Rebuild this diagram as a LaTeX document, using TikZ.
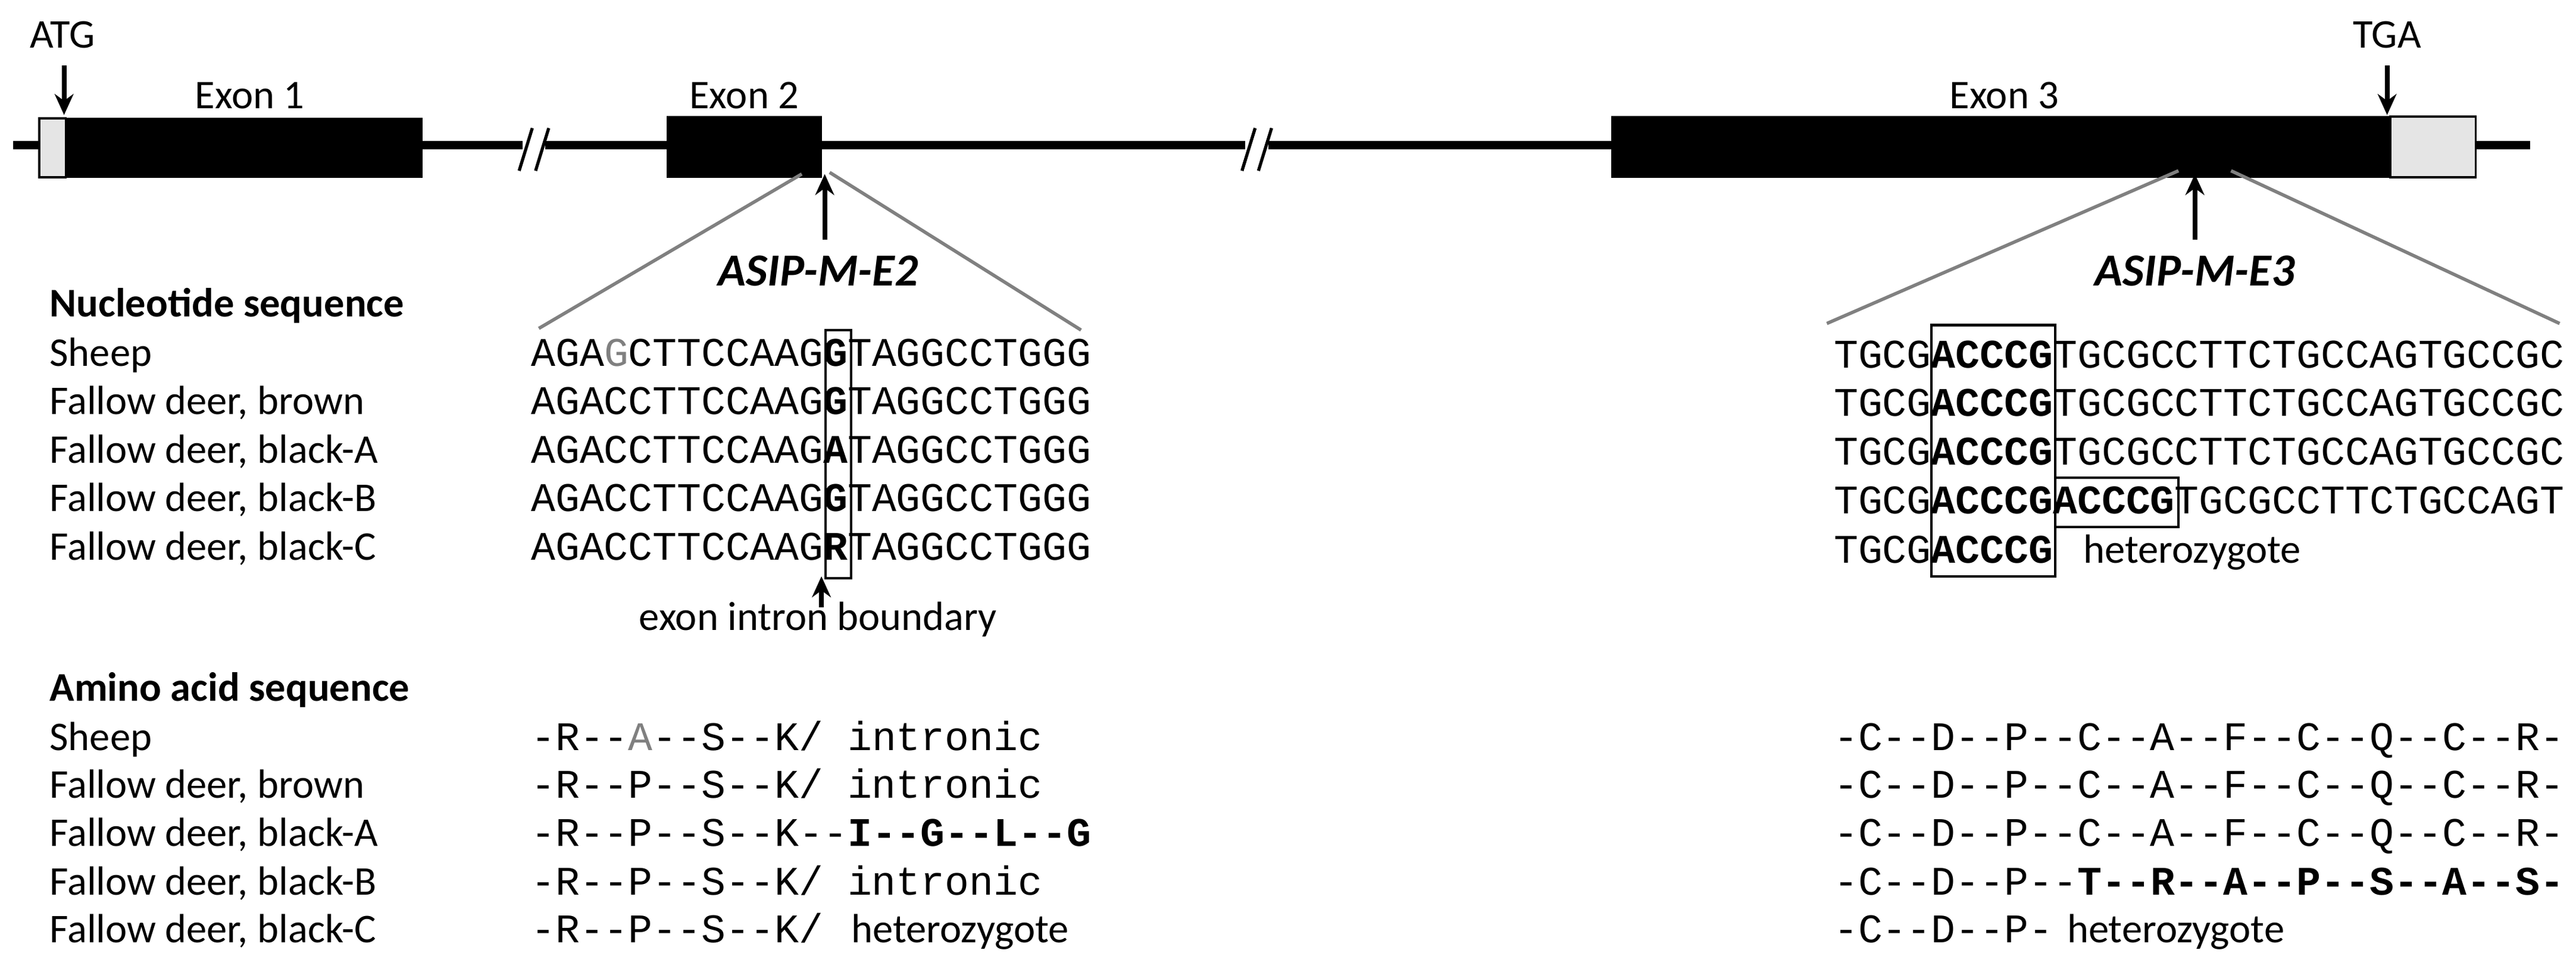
\documentclass[tikz,border=0pt]{standalone}
\usepackage{fontspec}
\usetikzlibrary{arrows.meta}
\setmainfont{Carlito}
\newfontfamily\seqf{Liberation Mono}
\begin{document}
\begin{tikzpicture}[x=0.0276cm,y=-0.0276cm,
  lab/.style={anchor=base west,inner sep=0,font=\fontsize{19.5}{24}\selectfont},
  sq/.style={anchor=base west,inner sep=0,font=\seqf\fontsize{19.4}{23}\selectfont},
  exon/.style={fill=black,draw=black},
  utr/.style={fill=gray!20,draw=black,line width=1pt},
  arr/.style={-{Stealth[length=10pt,width=9pt]},line width=2.2pt},
  zoomline/.style={draw=gray,line width=1.6pt},
  hbox/.style={draw=black,line width=1.2pt}]
\useasboundingbox (0,0) rectangle (1568,591.7);
% backbone
\draw[line width=3.9pt] (8,88.5) -- (1540,88.5);
\fill[exon] (40,72) rectangle (257,108);
\draw[utr] (24,72) rectangle (40,108);
\fill[exon] (406,71) rectangle (500,108);
\fill[exon] (981,71) rectangle (1455,108);
\draw[utr] (1455,71) rectangle (1507,108);
% breaks
\foreach \bx in {325,765}{
  \fill[white] (\bx-7,80) rectangle (\bx+7,97);
  \draw[line width=1.5pt] (\bx-9,104) -- (\bx-1,78);
  \draw[line width=1.5pt] (\bx+1,104) -- (\bx+9,78);
}
% labels
\node[lab,anchor=base] (atg) at (38,29) {ATG};
\coordinate (atgt) at (39,70);
\draw[arr] (39,40) -- (atgt);
\node[lab,anchor=base] (e1) at (152,66) {Exon 1};
\node[lab,anchor=base] (e2) at (453,66) {Exon 2};
\node[lab,anchor=base] (e3) at (1220,66) {Exon 3};
\node[lab,anchor=base] (tga) at (1453,29) {TGA};
\coordinate (tgat) at (1453,70);
\draw[arr] (1453,40) -- (tgat);
% markers
\node[lab,anchor=base,font=\fontsize{22}{26}\selectfont\bfseries\itshape] (m2) at (498,174) {ASIP-M-E2};
\coordinate (m2t) at (502,106);
\draw[arr] (502,146) -- (m2t);
\node[lab,anchor=base,font=\fontsize{22}{26}\selectfont\bfseries\itshape] (m3) at (1336,174) {ASIP-M-E3};
\coordinate (m3t) at (1336,106);
\draw[arr] (1336,146) -- (m3t);
\draw[zoomline] (488,106) -- (328,200);
\draw[zoomline] (505,105) -- (658,201);
\draw[zoomline] (1326,104) -- (1112,197);
\draw[zoomline] (1358,104) -- (1558,197);
% left labels
\node[lab,font=\fontsize{19.5}{24}\selectfont\bfseries] (nt) at (30,193) {Nucleotide sequence};
\node[lab] (n1) at (30,223) {Sheep};
\node[lab] (n2) at (30,252.5) {Fallow deer, brown};
\node[lab] (n3) at (30,282) {Fallow deer, black-A};
\node[lab] (n4) at (30,311.5) {Fallow deer, black-B};
\node[lab] (n5) at (30,341) {Fallow deer, black-C};
\node[lab,font=\fontsize{19.5}{24}\selectfont\bfseries] (aa) at (30,427) {Amino acid sequence};
\node[lab] (a1) at (30,457) {Sheep};
\node[lab] (a2) at (30,486) {Fallow deer, brown};
\node[lab] (a3) at (30,515.5) {Fallow deer, black-A};
\node[lab] (a4) at (30,545) {Fallow deer, black-B};
\node[lab] (a5) at (30,574) {Fallow deer, black-C};
% exon 2 sequences
\node[sq] (s1) at (323,223) {AGA\textcolor{gray}{G}CTTCCAAG\textbf{G}TAGGCCTGGG};
\node[sq] (s2) at (323,252.5) {AGACCTTCCAAG\textbf{G}TAGGCCTGGG};
\node[sq] (s3) at (323,282) {AGACCTTCCAAG\textbf{A}TAGGCCTGGG};
\node[sq] (s4) at (323,311.5) {AGACCTTCCAAG\textbf{G}TAGGCCTGGG};
\node[sq] (s5) at (323,341) {AGACCTTCCAAG\textbf{R}TAGGCCTGGG};
\draw[hbox] (502.5,201) rectangle (518,352);
\node[lab,anchor=base] (eib) at (498,384) {exon intron boundary};
\coordinate (eibt) at (500,351);
\draw[arr] (500,370) -- (eibt);
% exon 3 sequences
\node[sq] (r1) at (1116,224) {TGCG\textbf{ACCCG}TGCGCCTTCTGCCAGTGCCGC};
\node[sq] (r2) at (1116,253.5) {TGCG\textbf{ACCCG}TGCGCCTTCTGCCAGTGCCGC};
\node[sq] (r3) at (1116,283) {TGCG\textbf{ACCCG}TGCGCCTTCTGCCAGTGCCGC};
\node[sq] (r4) at (1116,313) {TGCG\textbf{ACCCGACCCG}TGCGCCTTCTGCCAGT};
\node[sq] (r5) at (1116,343) {TGCG\textbf{ACCCG}};
\node[lab] (het1) at (1268,343) {heterozygote};
\draw[hbox] (1175.5,198) rectangle (1251,351);
\draw[hbox] (1251,291) rectangle (1326,321);
% amino acids
\node[sq] (p1) at (323,457) {-R--\textcolor{gray}{A}--S--K/ intronic};
\node[sq] (p2) at (323,486) {-R--P--S--K/ intronic};
\node[sq] (p3) at (323,515.5) {-R--P--S--K--\textbf{I--G--L--G}};
\node[sq] (p4) at (323,545) {-R--P--S--K/ intronic};
\node[sq] (p5) at (323,574) {-R--P--S--K/};
\node[lab] (het2) at (518,574) {heterozygote};
\node[sq] (q1) at (1116,457) {-C--D--P--C--A--F--C--Q--C--R-};
\node[sq] (q2) at (1116,486) {-C--D--P--C--A--F--C--Q--C--R-};
\node[sq] (q3) at (1116,515.5) {-C--D--P--C--A--F--C--Q--C--R-};
\node[sq] (q4) at (1116,545) {-C--D--P--\textbf{T--R--A--P--S--A--S-}};
\node[sq] (q5) at (1116,574) {-C--D--P-};
\node[lab] (het3) at (1258,574) {heterozygote};
\end{tikzpicture}
\end{document}
